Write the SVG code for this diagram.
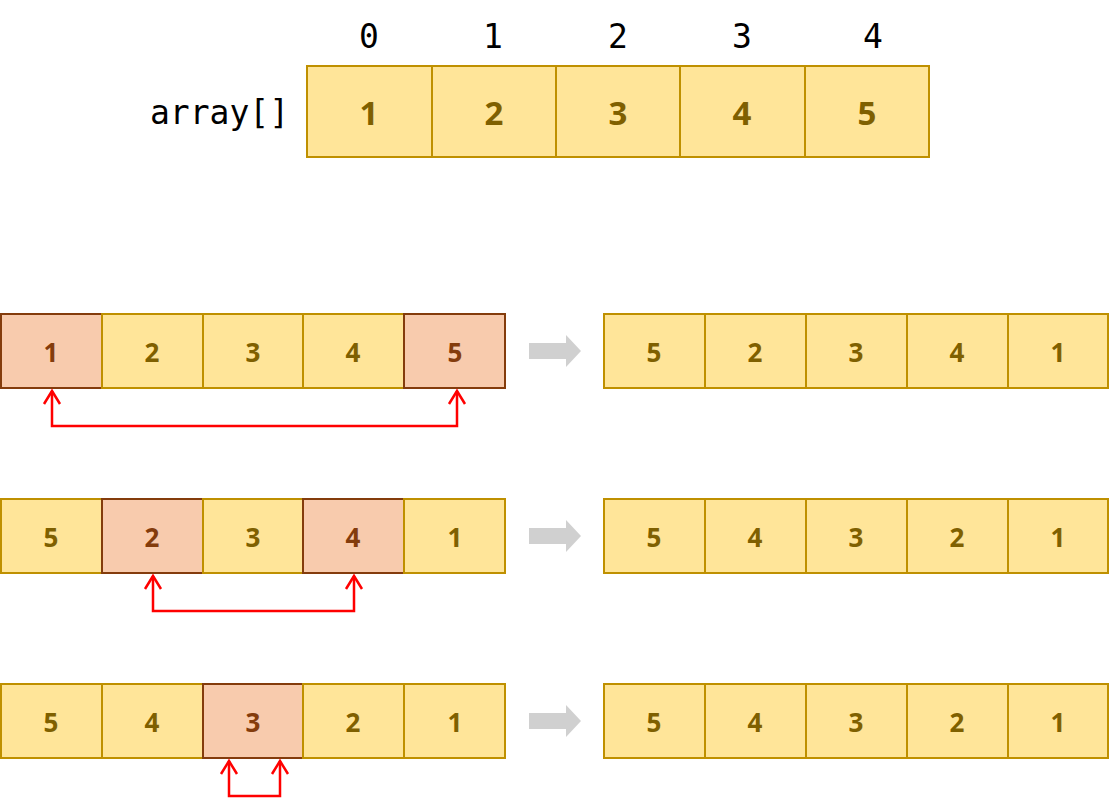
<svg xmlns="http://www.w3.org/2000/svg" width="1110" height="798" viewBox="0 0 1110 798">
<style>
.c{fill:#ffe599;stroke:#bf9000;stroke-width:2}
.h{fill:#f8cbad;stroke:#843c0c;stroke-width:2}
.t{font-family:"Open Sans","Liberation Sans",sans-serif;font-weight:bold;fill:#7f6000;text-anchor:middle;dominant-baseline:central}
.th{fill:#843c0c}
.big{font-size:33px}
.sm{font-size:26px}
.mono{font-family:"DejaVu Sans Mono","Liberation Mono",monospace;font-size:33px;fill:#000}
.red{fill:none;stroke:#ff0000;stroke-width:2.5}
.gray{fill:#d0d0d0}
</style>
<defs>
<path id="ga" d="M0,-8 H37 V-16 L52,0 L37,16 V8 H0 Z"/>
<path id="ah" d="M-8,14 L0,1 L8,14" fill="none" stroke="#ff0000" stroke-width="2.5"/>
</defs>
<g id="top">
<text class="mono" x="289" y="112" text-anchor="end" dominant-baseline="central">array[]</text>
<g class="mono" text-anchor="middle">
<text x="369" y="36" dominant-baseline="central">0</text>
<text x="493" y="36" dominant-baseline="central">1</text>
<text x="618" y="36" dominant-baseline="central">2</text>
<text x="742" y="36" dominant-baseline="central">3</text>
<text x="873" y="36" dominant-baseline="central">4</text>
</g>
<rect class="c" x="307" y="66" width="125" height="91"/>
<rect class="c" x="432" y="66" width="124" height="91"/>
<rect class="c" x="556" y="66" width="124" height="91"/>
<rect class="c" x="680" y="66" width="125" height="91"/>
<rect class="c" x="805" y="66" width="124" height="91"/>
<text class="t big" x="369" y="112">1</text>
<text class="t big" x="494" y="112">2</text>
<text class="t big" x="618" y="112">3</text>
<text class="t big" x="742" y="112">4</text>
<text class="t big" x="867" y="112">5</text>
</g>
<g id="row1">
<rect class="h" x="1" y="314" width="101" height="74"/>
<rect class="c" x="102" y="314" width="101" height="74"/>
<rect class="c" x="203" y="314" width="100" height="74"/>
<rect class="c" x="303" y="314" width="101" height="74"/>
<rect class="h" x="404" y="314" width="101" height="74"/>
<text class="t sm th" x="51" y="352">1</text>
<text class="t sm" x="152" y="352">2</text>
<text class="t sm" x="253" y="352">3</text>
<text class="t sm" x="353" y="352">4</text>
<text class="t sm th" x="455" y="352">5</text>
</g>
<g id="row1r">
<rect class="c" x="604" y="314" width="101" height="74"/>
<rect class="c" x="705" y="314" width="101" height="74"/>
<rect class="c" x="806" y="314" width="101" height="74"/>
<rect class="c" x="907" y="314" width="101" height="74"/>
<rect class="c" x="1008" y="314" width="100" height="74"/>
<text class="t sm" x="654" y="352">5</text>
<text class="t sm" x="755" y="352">2</text>
<text class="t sm" x="856" y="352">3</text>
<text class="t sm" x="957" y="352">4</text>
<text class="t sm" x="1058" y="352">1</text>
</g>
<g id="row2">
<rect class="c" x="1" y="499" width="101" height="74"/>
<rect class="h" x="102" y="499" width="101" height="74"/>
<rect class="c" x="203" y="499" width="100" height="74"/>
<rect class="h" x="303" y="499" width="101" height="74"/>
<rect class="c" x="404" y="499" width="101" height="74"/>
<text class="t sm" x="51" y="537">5</text>
<text class="t sm th" x="152" y="537">2</text>
<text class="t sm" x="253" y="537">3</text>
<text class="t sm th" x="353" y="537">4</text>
<text class="t sm" x="455" y="537">1</text>
</g>
<g id="row2r">
<rect class="c" x="604" y="499" width="101" height="74"/>
<rect class="c" x="705" y="499" width="101" height="74"/>
<rect class="c" x="806" y="499" width="101" height="74"/>
<rect class="c" x="907" y="499" width="101" height="74"/>
<rect class="c" x="1008" y="499" width="100" height="74"/>
<text class="t sm" x="654" y="537">5</text>
<text class="t sm" x="755" y="537">4</text>
<text class="t sm" x="856" y="537">3</text>
<text class="t sm" x="957" y="537">2</text>
<text class="t sm" x="1058" y="537">1</text>
</g>
<g id="row3">
<rect class="c" x="1" y="684" width="101" height="74"/>
<rect class="c" x="102" y="684" width="101" height="74"/>
<rect class="h" x="203" y="684" width="100" height="74"/>
<rect class="c" x="303" y="684" width="101" height="74"/>
<rect class="c" x="404" y="684" width="101" height="74"/>
<text class="t sm" x="51" y="722">5</text>
<text class="t sm" x="152" y="722">4</text>
<text class="t sm th" x="253" y="722">3</text>
<text class="t sm" x="353" y="722">2</text>
<text class="t sm" x="455" y="722">1</text>
</g>
<g id="row3r">
<rect class="c" x="604" y="684" width="101" height="74"/>
<rect class="c" x="705" y="684" width="101" height="74"/>
<rect class="c" x="806" y="684" width="101" height="74"/>
<rect class="c" x="907" y="684" width="101" height="74"/>
<rect class="c" x="1008" y="684" width="100" height="74"/>
<text class="t sm" x="654" y="722">5</text>
<text class="t sm" x="755" y="722">4</text>
<text class="t sm" x="856" y="722">3</text>
<text class="t sm" x="957" y="722">2</text>
<text class="t sm" x="1058" y="722">1</text>
</g>
<g id="connectors">
<use href="#ga" class="gray" x="529" y="351"/>
<use href="#ga" class="gray" x="529" y="536"/>
<use href="#ga" class="gray" x="529" y="721"/>
<path class="red" d="M52,391 V426 H457 V391"/>
<use href="#ah" x="52" y="390"/>
<use href="#ah" x="457" y="390"/>
<path class="red" d="M153,576 V611 H354 V576"/>
<use href="#ah" x="153" y="575"/>
<use href="#ah" x="354" y="575"/>
<path class="red" d="M229,761 V796 H280 V761"/>
<use href="#ah" x="229" y="760"/>
<use href="#ah" x="280" y="760"/>
</g>
</svg>
